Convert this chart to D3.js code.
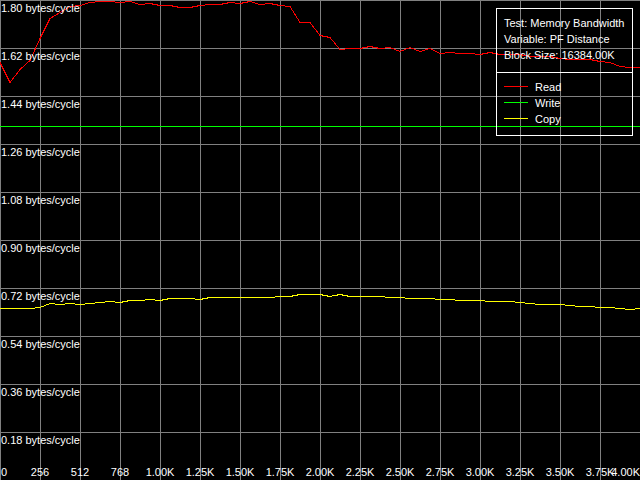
<!DOCTYPE html>
<html>
<head>
<meta charset="utf-8">
<script src="https://cdn.jsdelivr.net/npm/d3@7"></script>
<style>
  html, body { margin: 0; padding: 0; background: #000; }
  svg { display: block; }
  text { font-family: "Liberation Sans", Arial, sans-serif; font-size: 11px; fill: #fff; }
</style>
</head>
<body>
<svg id="chart" width="640" height="480"></svg>
<script>
// ---- data ----
const pfDistance = [0,64,128,192,256,320,384,448,512,576,640,704,768,832,896,960,1024,1088,1152,1216,1280,1344,1408,1472,1536,1600,1664,1728,1792,1856,1920,1984,2048,2112,2176,2240,2304,2368,2432,2496,2560,2624,2688,2752,2816,2880,2944,3008,3072,3136,3200,3264,3328,3392,3456,3520,3584,3648,3712,3776,3840,3904,3968,4032,4096];

const readValues = [1.564,1.4925,1.5375,1.575,1.6575,1.7325,1.755,1.774,1.781,1.791,
  1.7925,1.794,1.789,1.793,1.784,1.788,1.7775,1.780,1.773,1.773,
  1.779,1.785,1.784,1.791,1.788,1.795,1.784,1.788,1.7775,1.776,
  1.7175,1.715,1.665,1.659,1.616,1.619,1.619,1.6275,1.619,1.623,
  1.608,1.623,1.607,1.619,1.600,1.604,1.601,1.600,1.596,1.604,
  1.594,1.594,1.594,1.587,1.587,1.590,1.5825,1.578,1.578,1.578,
  1.569,1.5675,1.5525,1.548,1.548];

const writeValues = [1.324,1.324,1.324,1.324,1.324,1.324,1.324,1.324,1.324,1.324,
  1.324,1.324,1.324,1.324,1.324,1.324,1.324,1.324,1.324,1.324,
  1.324,1.324,1.324,1.324,1.324,1.324,1.324,1.324,1.324,1.324,
  1.324,1.324,1.324,1.324,1.324,1.324,1.324,1.324,1.324,1.324,
  1.324,1.324,1.324,1.324,1.324,1.324,1.324,1.324,1.324,1.324,
  1.324,1.324,1.324,1.324,1.324,1.324,1.324,1.324,1.324,1.324,
  1.324,1.324,1.324,1.324,1.324];

const copyValues = [0.643,0.6439,0.6439,0.6439,0.6476,0.6626,0.66,0.6626,0.6563,0.6626,
  0.6664,0.6701,0.6664,0.6739,0.6739,0.6776,0.6739,0.6814,0.6806,0.6814,
  0.6776,0.6851,0.6844,0.6851,0.6851,0.6851,0.6851,0.6851,0.69,0.69,
  0.6938,0.6938,0.6938,0.69,0.6938,0.69,0.69,0.69,0.69,0.6851,
  0.6851,0.6814,0.6814,0.6814,0.6776,0.6776,0.6739,0.6739,0.6739,0.6701,
  0.6701,0.6701,0.6664,0.6626,0.6589,0.6589,0.6589,0.6551,0.6514,0.6514,
  0.6476,0.6476,0.6439,0.6401,0.6439];

const xTickValues = [0,256,512,768,1024,1280,1536,1792,2048,2304,2560,2816,3072,3328,3584,3840,4096];
const xTickLabels = ["0","256","512","768","1.00K","1.25K","1.50K","1.75K","2.00K","2.25K","2.50K","2.75K","3.00K","3.25K","3.50K","3.75K","4.00K"];
const yTickValues = [1.80,1.62,1.44,1.26,1.08,0.90,0.72,0.54,0.36,0.18];
const yTickLabels = ["1.80 bytes/cycle","1.62 bytes/cycle","1.44 bytes/cycle","1.26 bytes/cycle","1.08 bytes/cycle","0.90 bytes/cycle","0.72 bytes/cycle","0.54 bytes/cycle","0.36 bytes/cycle","0.18 bytes/cycle"];

const seriesNames = ["Read","Write","Copy"];
const seriesColors = ["#ff0000","#00ff00","#ffff00"];
const infoLines = ["Test: Memory Bandwidth","Variable: PF Distance","Block Size: 16384.00K"];

// ---- drawing ----
const W = 640, H = 480;
const svg = d3.select("#chart");
svg.append("rect").attr("width", W).attr("height", H).attr("fill", "#000");

const x = d3.scaleLinear().domain([0, 4096]).range([0, W]);
const y = d3.scaleLinear().domain([0, 1.8]).range([H, 0]);

// vertical grid
const gx = svg.append("g")
  .call(d3.axisBottom(x).tickValues(xTickValues).tickSize(H).tickFormat(""));
gx.select(".domain").remove();
gx.selectAll(".tick line").attr("stroke", "#808080");

// horizontal grid
const gy = svg.append("g")
  .call(d3.axisRight(y).tickValues(yTickValues.concat([0])).tickSize(W).tickFormat(""));
gy.select(".domain").remove();
gy.selectAll(".tick line").attr("stroke", "#808080");

// series
const seriesData = [readValues, writeValues, copyValues];
const line = d3.line()
  .x((d, i) => x(pfDistance[i]))
  .y(d => Math.floor(y(d)) + 0.5);

seriesData.forEach((vals, k) => {
  svg.append("path")
    .datum(vals)
    .attr("d", line)
    .attr("fill", "none")
    .attr("stroke", seriesColors[k])
    .attr("stroke-width", 1)
    .attr("shape-rendering", "crispEdges");
});

// y labels
svg.append("g").selectAll("text")
  .data(yTickValues)
  .join("text")
  .attr("x", 1)
  .attr("y", d => y(d) + 12)
  .text((d, i) => yTickLabels[i]);

// x labels
svg.append("g").selectAll("text")
  .data(xTickValues)
  .join("text")
  .attr("x", d => x(d))
  .attr("y", 476)
  .attr("text-anchor", (d, i) => i === 0 ? "start" : (i === xTickValues.length - 1 ? "end" : "middle"))
  .attr("dx", (d, i) => i === 0 ? 1 : 0)
  .text((d, i) => xTickLabels[i]);

// legend
const lg = svg.append("g");
lg.append("rect")
  .attr("x", 496.5).attr("y", 8.5).attr("width", 136).attr("height", 127)
  .attr("fill", "none").attr("stroke", "#fff");
lg.append("line")
  .attr("x1", 496).attr("x2", 633).attr("y1", 72.5).attr("y2", 72.5)
  .attr("stroke", "#fff");
lg.selectAll("text.info")
  .data(infoLines)
  .join("text")
  .attr("class", "info")
  .attr("x", 504)
  .attr("y", (d, i) => 27 + i * 16)
  .text(d => d);
seriesNames.forEach((name, i) => {
  lg.append("line")
    .attr("x1", 504).attr("x2", 528)
    .attr("y1", 86.5 + i * 16).attr("y2", 86.5 + i * 16)
    .attr("stroke", seriesColors[i]);
  lg.append("text")
    .attr("x", 535)
    .attr("y", 91 + i * 16)
    .text(name);
});
</script>
</body>
</html>
